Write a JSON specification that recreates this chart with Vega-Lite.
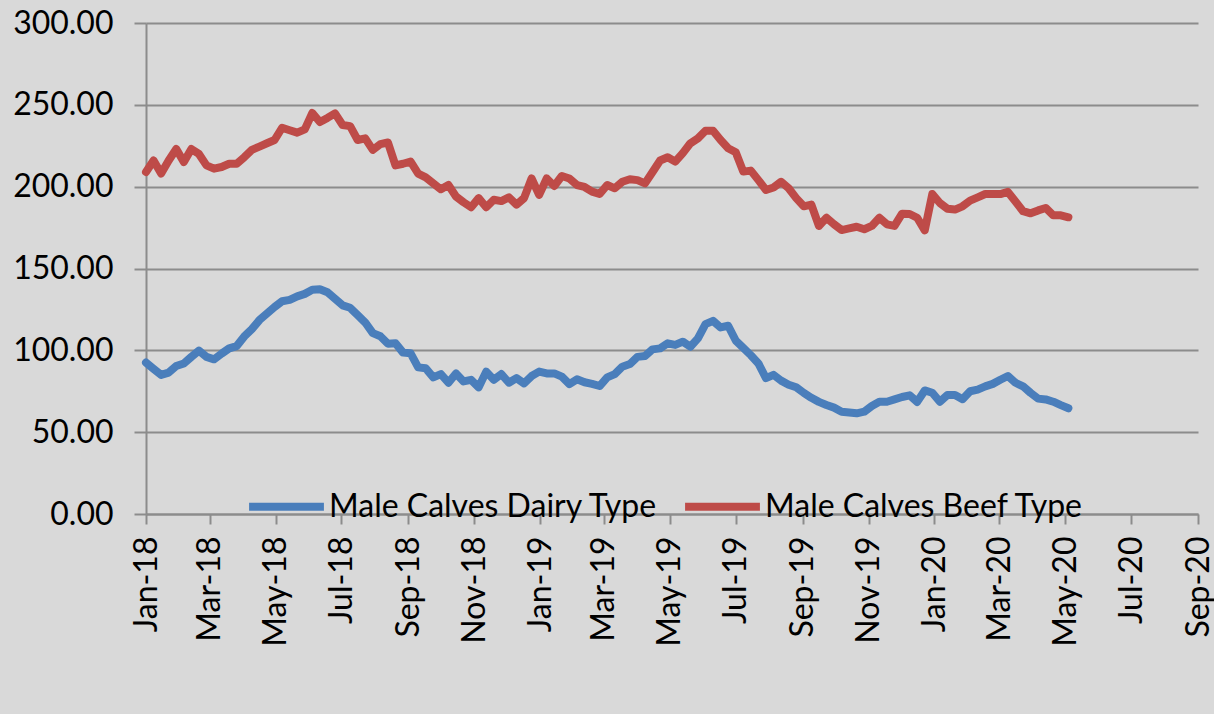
{
"$schema":"https://vega.github.io/schema/vega-lite/v6.json",
"width":1052,"height":491,
"autosize":{"type":"none"},
"padding":{"left":146,"top":23,"right":16,"bottom":200},
"background":"#D9D9D9",
"config":{"view":{"stroke":null},"font":"Lato"},
"data":{"values":[
{"date":"2018-01-01","Male Calves Dairy Type":92.5,"Male Calves Beef Type":209},
{"date":"2018-01-08","Male Calves Dairy Type":88.7,"Male Calves Beef Type":216},
{"date":"2018-01-15","Male Calves Dairy Type":85,"Male Calves Beef Type":208},
{"date":"2018-01-22","Male Calves Dairy Type":86.4,"Male Calves Beef Type":216},
{"date":"2018-01-29","Male Calves Dairy Type":90.4,"Male Calves Beef Type":223},
{"date":"2018-02-05","Male Calves Dairy Type":92,"Male Calves Beef Type":215},
{"date":"2018-02-12","Male Calves Dairy Type":96,"Male Calves Beef Type":223},
{"date":"2018-02-19","Male Calves Dairy Type":99.8,"Male Calves Beef Type":220},
{"date":"2018-02-26","Male Calves Dairy Type":96,"Male Calves Beef Type":213},
{"date":"2018-03-05","Male Calves Dairy Type":94.5,"Male Calves Beef Type":211},
{"date":"2018-03-12","Male Calves Dairy Type":98,"Male Calves Beef Type":212},
{"date":"2018-03-19","Male Calves Dairy Type":101.2,"Male Calves Beef Type":214},
{"date":"2018-03-26","Male Calves Dairy Type":102.6,"Male Calves Beef Type":214},
{"date":"2018-04-02","Male Calves Dairy Type":108.5,"Male Calves Beef Type":218},
{"date":"2018-04-09","Male Calves Dairy Type":113,"Male Calves Beef Type":222.5},
{"date":"2018-04-16","Male Calves Dairy Type":118.5,"Male Calves Beef Type":224.5},
{"date":"2018-04-23","Male Calves Dairy Type":122.5,"Male Calves Beef Type":226.5},
{"date":"2018-04-30","Male Calves Dairy Type":126.5,"Male Calves Beef Type":228.5},
{"date":"2018-05-07","Male Calves Dairy Type":130,"Male Calves Beef Type":236},
{"date":"2018-05-14","Male Calves Dairy Type":130.8,"Male Calves Beef Type":234.5},
{"date":"2018-05-21","Male Calves Dairy Type":133,"Male Calves Beef Type":233},
{"date":"2018-05-28","Male Calves Dairy Type":134.5,"Male Calves Beef Type":235},
{"date":"2018-06-04","Male Calves Dairy Type":137,"Male Calves Beef Type":245},
{"date":"2018-06-11","Male Calves Dairy Type":137.3,"Male Calves Beef Type":239.5},
{"date":"2018-06-18","Male Calves Dairy Type":135.5,"Male Calves Beef Type":242},
{"date":"2018-06-25","Male Calves Dairy Type":131.5,"Male Calves Beef Type":244.8},
{"date":"2018-07-02","Male Calves Dairy Type":127.5,"Male Calves Beef Type":237.7},
{"date":"2018-07-09","Male Calves Dairy Type":126,"Male Calves Beef Type":237},
{"date":"2018-07-16","Male Calves Dairy Type":121.5,"Male Calves Beef Type":228.5},
{"date":"2018-07-23","Male Calves Dairy Type":117,"Male Calves Beef Type":229.5},
{"date":"2018-07-30","Male Calves Dairy Type":110.5,"Male Calves Beef Type":222.5},
{"date":"2018-08-06","Male Calves Dairy Type":108.6,"Male Calves Beef Type":226},
{"date":"2018-08-13","Male Calves Dairy Type":104,"Male Calves Beef Type":227},
{"date":"2018-08-20","Male Calves Dairy Type":104.3,"Male Calves Beef Type":213},
{"date":"2018-08-27","Male Calves Dairy Type":98.6,"Male Calves Beef Type":214},
{"date":"2018-09-03","Male Calves Dairy Type":98.2,"Male Calves Beef Type":215.3},
{"date":"2018-09-10","Male Calves Dairy Type":89.6,"Male Calves Beef Type":208},
{"date":"2018-09-17","Male Calves Dairy Type":89,"Male Calves Beef Type":205.7},
{"date":"2018-09-24","Male Calves Dairy Type":83.5,"Male Calves Beef Type":202},
{"date":"2018-10-01","Male Calves Dairy Type":85.5,"Male Calves Beef Type":198.4},
{"date":"2018-10-08","Male Calves Dairy Type":80.2,"Male Calves Beef Type":201},
{"date":"2018-10-15","Male Calves Dairy Type":85.9,"Male Calves Beef Type":194},
{"date":"2018-10-22","Male Calves Dairy Type":81,"Male Calves Beef Type":190.5},
{"date":"2018-10-29","Male Calves Dairy Type":82,"Male Calves Beef Type":187.4},
{"date":"2018-11-05","Male Calves Dairy Type":77.4,"Male Calves Beef Type":193},
{"date":"2018-11-12","Male Calves Dairy Type":87,"Male Calves Beef Type":187.4},
{"date":"2018-11-19","Male Calves Dairy Type":82,"Male Calves Beef Type":192},
{"date":"2018-11-26","Male Calves Dairy Type":85.5,"Male Calves Beef Type":191.2},
{"date":"2018-12-03","Male Calves Dairy Type":80.2,"Male Calves Beef Type":193.5},
{"date":"2018-12-10","Male Calves Dairy Type":83,"Male Calves Beef Type":189},
{"date":"2018-12-17","Male Calves Dairy Type":79.8,"Male Calves Beef Type":193},
{"date":"2018-12-24","Male Calves Dairy Type":84.3,"Male Calves Beef Type":205},
{"date":"2018-12-31","Male Calves Dairy Type":87,"Male Calves Beef Type":195},
{"date":"2019-01-07","Male Calves Dairy Type":85.9,"Male Calves Beef Type":205},
{"date":"2019-01-14","Male Calves Dairy Type":85.9,"Male Calves Beef Type":200.4},
{"date":"2019-01-21","Male Calves Dairy Type":83.9,"Male Calves Beef Type":206.5},
{"date":"2019-01-28","Male Calves Dairy Type":79.4,"Male Calves Beef Type":205},
{"date":"2019-02-04","Male Calves Dairy Type":82.3,"Male Calves Beef Type":201},
{"date":"2019-02-11","Male Calves Dairy Type":80.5,"Male Calves Beef Type":199.8},
{"date":"2019-02-18","Male Calves Dairy Type":79.5,"Male Calves Beef Type":197},
{"date":"2019-02-25","Male Calves Dairy Type":78.2,"Male Calves Beef Type":195.5},
{"date":"2019-03-04","Male Calves Dairy Type":83.5,"Male Calves Beef Type":201},
{"date":"2019-03-11","Male Calves Dairy Type":85.5,"Male Calves Beef Type":199},
{"date":"2019-03-18","Male Calves Dairy Type":90,"Male Calves Beef Type":203},
{"date":"2019-03-25","Male Calves Dairy Type":91.6,"Male Calves Beef Type":204.5},
{"date":"2019-04-01","Male Calves Dairy Type":96,"Male Calves Beef Type":204},
{"date":"2019-04-08","Male Calves Dairy Type":96.5,"Male Calves Beef Type":202},
{"date":"2019-04-15","Male Calves Dairy Type":100.6,"Male Calves Beef Type":209},
{"date":"2019-04-22","Male Calves Dairy Type":101.2,"Male Calves Beef Type":216},
{"date":"2019-04-29","Male Calves Dairy Type":104.3,"Male Calves Beef Type":218},
{"date":"2019-05-06","Male Calves Dairy Type":103.3,"Male Calves Beef Type":215.3},
{"date":"2019-05-13","Male Calves Dairy Type":105.3,"Male Calves Beef Type":220.5},
{"date":"2019-05-20","Male Calves Dairy Type":102.2,"Male Calves Beef Type":226.5},
{"date":"2019-05-27","Male Calves Dairy Type":107.3,"Male Calves Beef Type":229.5},
{"date":"2019-06-03","Male Calves Dairy Type":116,"Male Calves Beef Type":234.2},
{"date":"2019-06-10","Male Calves Dairy Type":118,"Male Calves Beef Type":234.2},
{"date":"2019-06-17","Male Calves Dairy Type":114,"Male Calves Beef Type":228.5},
{"date":"2019-06-24","Male Calves Dairy Type":115,"Male Calves Beef Type":223.5},
{"date":"2019-07-01","Male Calves Dairy Type":106,"Male Calves Beef Type":221},
{"date":"2019-07-08","Male Calves Dairy Type":101.5,"Male Calves Beef Type":209.2},
{"date":"2019-07-15","Male Calves Dairy Type":97,"Male Calves Beef Type":209.8},
{"date":"2019-07-22","Male Calves Dairy Type":92,"Male Calves Beef Type":204},
{"date":"2019-07-29","Male Calves Dairy Type":83,"Male Calves Beef Type":198},
{"date":"2019-08-05","Male Calves Dairy Type":85,"Male Calves Beef Type":199.5},
{"date":"2019-08-12","Male Calves Dairy Type":81.5,"Male Calves Beef Type":203},
{"date":"2019-08-19","Male Calves Dairy Type":79,"Male Calves Beef Type":199},
{"date":"2019-08-26","Male Calves Dairy Type":77.4,"Male Calves Beef Type":193},
{"date":"2019-09-02","Male Calves Dairy Type":74,"Male Calves Beef Type":188},
{"date":"2019-09-09","Male Calves Dairy Type":71,"Male Calves Beef Type":189},
{"date":"2019-09-16","Male Calves Dairy Type":68.5,"Male Calves Beef Type":176},
{"date":"2019-09-23","Male Calves Dairy Type":66.6,"Male Calves Beef Type":181},
{"date":"2019-09-30","Male Calves Dairy Type":65,"Male Calves Beef Type":177},
{"date":"2019-10-07","Male Calves Dairy Type":62.5,"Male Calves Beef Type":173.5},
{"date":"2019-10-14","Male Calves Dairy Type":62,"Male Calves Beef Type":174.5},
{"date":"2019-10-21","Male Calves Dairy Type":61.5,"Male Calves Beef Type":175.5},
{"date":"2019-10-28","Male Calves Dairy Type":62.5,"Male Calves Beef Type":174},
{"date":"2019-11-04","Male Calves Dairy Type":66,"Male Calves Beef Type":176},
{"date":"2019-11-11","Male Calves Dairy Type":68.6,"Male Calves Beef Type":181},
{"date":"2019-11-18","Male Calves Dairy Type":68.6,"Male Calves Beef Type":177},
{"date":"2019-11-25","Male Calves Dairy Type":70,"Male Calves Beef Type":176},
{"date":"2019-12-02","Male Calves Dairy Type":71.5,"Male Calves Beef Type":183.5},
{"date":"2019-12-09","Male Calves Dairy Type":72.5,"Male Calves Beef Type":183.3},
{"date":"2019-12-16","Male Calves Dairy Type":68.5,"Male Calves Beef Type":181},
{"date":"2019-12-23","Male Calves Dairy Type":75.5,"Male Calves Beef Type":173.3},
{"date":"2019-12-30","Male Calves Dairy Type":74.1,"Male Calves Beef Type":195.5},
{"date":"2020-01-06","Male Calves Dairy Type":68.6,"Male Calves Beef Type":190},
{"date":"2020-01-13","Male Calves Dairy Type":72.7,"Male Calves Beef Type":186.5},
{"date":"2020-01-20","Male Calves Dairy Type":72.7,"Male Calves Beef Type":186},
{"date":"2020-01-27","Male Calves Dairy Type":70.1,"Male Calves Beef Type":188},
{"date":"2020-02-03","Male Calves Dairy Type":75,"Male Calves Beef Type":191.5},
{"date":"2020-02-10","Male Calves Dairy Type":76,"Male Calves Beef Type":193.5},
{"date":"2020-02-17","Male Calves Dairy Type":78,"Male Calves Beef Type":195.5},
{"date":"2020-02-24","Male Calves Dairy Type":79.5,"Male Calves Beef Type":195.5},
{"date":"2020-03-02","Male Calves Dairy Type":82,"Male Calves Beef Type":195.5},
{"date":"2020-03-09","Male Calves Dairy Type":84.3,"Male Calves Beef Type":196.8},
{"date":"2020-03-16","Male Calves Dairy Type":80.2,"Male Calves Beef Type":191},
{"date":"2020-03-23","Male Calves Dairy Type":78,"Male Calves Beef Type":185},
{"date":"2020-03-30","Male Calves Dairy Type":74,"Male Calves Beef Type":183.7},
{"date":"2020-04-06","Male Calves Dairy Type":70.5,"Male Calves Beef Type":185.5},
{"date":"2020-04-13","Male Calves Dairy Type":70,"Male Calves Beef Type":187},
{"date":"2020-04-20","Male Calves Dairy Type":68.6,"Male Calves Beef Type":182.5},
{"date":"2020-04-27","Male Calves Dairy Type":66.5,"Male Calves Beef Type":182.5},
{"date":"2020-05-04","Male Calves Dairy Type":64.6,"Male Calves Beef Type":181.3}
]},
"transform":[{"fold":["Male Calves Dairy Type","Male Calves Beef Type"],"as":["series","price"]}],
"mark":{"type":"line","strokeWidth":8,"strokeJoin":"round","strokeCap":"round"},
"encoding":{
"x":{"field":"date","type":"temporal",
"scale":{"type":"utc","nice":false,"domain":[{"year":2018,"month":1,"date":1,"utc":true},{"year":2020,"month":9,"date":1,"utc":true}]},
"axis":{"title":null,"labelExpr":"utcFormat(datum.value, '%b-%y')","labelAngle":-90,"labelFontSize":32,"labelFont":"Lato","labelColor":"#000000","labelPadding":12,"tickSize":10,"tickColor":"#8C8C8C","tickWidth":2,"domainColor":"#8C8C8C","domainWidth":2,"grid":false,"labelOverlap":false,"labelFlush":false,"labelBound":false,
"values":[{"year":2018,"month":1,"date":1,"utc":true},{"year":2018,"month":3,"date":1,"utc":true},{"year":2018,"month":5,"date":1,"utc":true},{"year":2018,"month":7,"date":1,"utc":true},{"year":2018,"month":9,"date":1,"utc":true},{"year":2018,"month":11,"date":1,"utc":true},{"year":2019,"month":1,"date":1,"utc":true},{"year":2019,"month":3,"date":1,"utc":true},{"year":2019,"month":5,"date":1,"utc":true},{"year":2019,"month":7,"date":1,"utc":true},{"year":2019,"month":9,"date":1,"utc":true},{"year":2019,"month":11,"date":1,"utc":true},{"year":2020,"month":1,"date":1,"utc":true},{"year":2020,"month":3,"date":1,"utc":true},{"year":2020,"month":5,"date":1,"utc":true},{"year":2020,"month":7,"date":1,"utc":true},{"year":2020,"month":9,"date":1,"utc":true}]}},
"y":{"field":"price","type":"quantitative","scale":{"domain":[0,300],"nice":false},
"axis":{"title":null,"values":[0,50,100,150,200,250,300],"format":".2f","labelFontSize":32,"labelFont":"Lato","labelColor":"#000000","labelPadding":21,"tickSize":12,"tickColor":"#8C8C8C","tickWidth":2,"domainColor":"#8C8C8C","domainWidth":2,"grid":true,"gridColor":"#8C8C8C","gridWidth":2,"labelOverlap":false,"labelFlush":false,"labelBound":false}},
"color":{"field":"series","type":"nominal",
"scale":{"domain":["Male Calves Dairy Type","Male Calves Beef Type"],"range":["#4A7EBB","#BE4B48"]},
"legend":{"title":null,"orient":"none","legendX":99,"legendY":442,"direction":"horizontal","symbolType":"stroke","symbolSize":5600,"symbolStrokeWidth":8,"labelFontSize":32,"labelFont":"Lato","labelColor":"#000000","labelOffset":1,"columnPadding":11,"padding":0,"labelLimit":600}}
}
}
